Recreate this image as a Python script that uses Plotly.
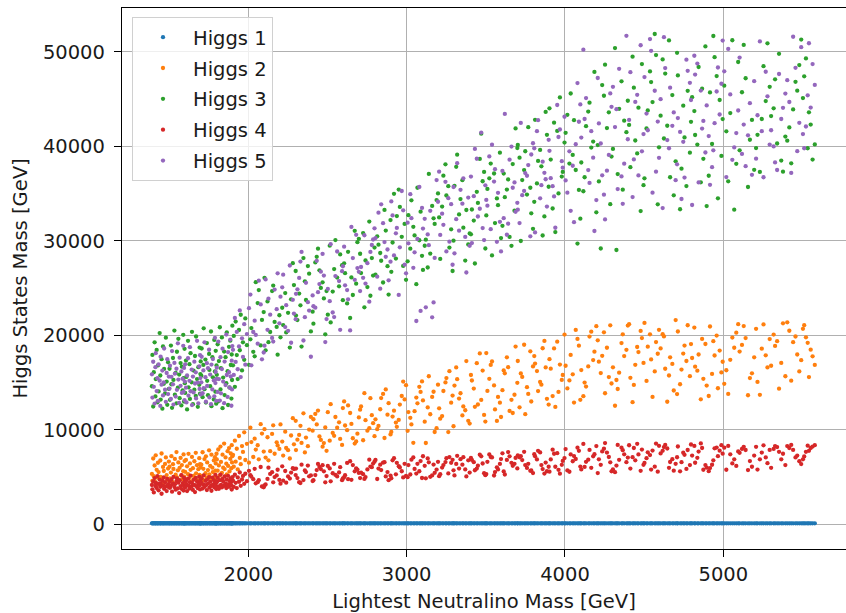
import plotly.graph_objects as go

# Lightest neutralino mass [GeV] for each parameter point (shared by all five Higgs states)
neutralino_mass = [
    1391, 1394, 1399, 1403, 1408, 1413, 1415, 1421, 1426, 1429, 1433, 1440, 1444, 1446, 1452, 1457, 1461, 1466, 1468, 1474, 1479, 1484, 1488, 1493, 1498,
    1502, 1505, 1511, 1514, 1518, 1524, 1527, 1533, 1536, 1541, 1546, 1549, 1555, 1558, 1563, 1566, 1572, 1577, 1580, 1585, 1589, 1591, 1594, 1597, 1599,
    1601, 1606, 1609, 1613, 1619, 1622, 1628, 1631, 1635, 1642, 1644, 1650, 1654, 1659, 1663, 1668, 1670, 1676, 1681, 1684, 1690, 1692, 1695, 1697, 1699,
    1703, 1705, 1711, 1716, 1718, 1723, 1729, 1732, 1738, 1740, 1745, 1752, 1754, 1759, 1764, 1767, 1773, 1776, 1782, 1785, 1789, 1792, 1794, 1797, 1799,
    1801, 1806, 1810, 1814, 1820, 1824, 1827, 1833, 1837, 1841, 1847, 1850, 1856, 1861, 1864, 1869, 1872, 1878, 1881, 1886, 1889, 1893, 1895, 1897, 1899,
    1903, 1908, 1915, 1920, 1927, 1933, 1941, 1946, 1952, 1960, 1966, 1974, 1981, 1991,
    2031, 2086, 2004, 2059, 2013, 2097, 2040, 2066, 2019, 2078, 2047,
    2179, 2109, 2150, 2196, 2127, 2102, 2166, 2121, 2185, 2157, 2138,
    2251, 2203, 2288, 2220, 2270, 2239, 2299, 2214, 2262, 2233, 2281,
    2310, 2357, 2329, 2376, 2395, 2321, 2301, 2384, 2336, 2348, 2364,
    2477, 2411, 2449, 2494, 2432, 2406, 2469, 2423, 2486, 2458, 2440,
    2533, 2592, 2502, 2561, 2514, 2597, 2542, 2573, 2520, 2580, 2550,
    2611, 2660, 2630, 2681, 2698, 2624, 2605, 2689, 2643, 2651, 2672,
    2752, 2706, 2788, 2725, 2771, 2740, 2797, 2712, 2764, 2733, 2780,
    2879, 2814, 2851, 2898, 2833, 2803, 2868, 2822, 2886, 2860, 2839,
    2932, 2987, 2903, 2957, 2911, 2996, 2938, 2969, 2920, 2978, 2950,
    3050, 3006, 3088, 3023, 3068, 3042, 3097, 3011, 3061, 3030, 3080,
    3114, 3161, 3133, 3177, 3198, 3121, 3103, 3189, 3140, 3149, 3170,
    3281, 3212, 3251, 3296, 3232, 3205, 3270, 3224, 3290, 3263, 3245,
    3331, 3389, 3302, 3358, 3313, 3398, 3340, 3370, 3319, 3377, 3352,
    3450, 3406, 3489, 3424, 3471, 3443, 3497, 3412, 3462, 3431, 3480,
    3510, 3558, 3531, 3577, 3596, 3522, 3503, 3589, 3539, 3552, 3570,
    3681, 3613, 3650, 3699, 3633, 3605, 3670, 3620, 3688, 3662, 3641,
    3730, 3787, 3702, 3760, 3713, 3798, 3742, 3768, 3721, 3781, 3749,
    3851, 3806, 3886, 3823, 3870, 3843, 3897, 3811, 3859, 3830, 3878,
    3910, 3959, 3931, 3980, 3997, 3922, 3902, 3986, 3939, 3951, 3968,
    4049, 4088, 4015, 4068, 4004, 4097, 4036, 4079, 4028, 4057,
    4178, 4124, 4155, 4103, 4198, 4133, 4186, 4116, 4166, 4147,
    4226, 4265, 4294, 4246, 4214, 4277, 4207, 4253, 4286, 4235,
    4374, 4325, 4357, 4303, 4397, 4333, 4388, 4316, 4365, 4342,
    4444, 4486, 4413, 4464, 4405, 4496, 4435, 4478, 4427, 4456,
    4523, 4567, 4594, 4544, 4515, 4575, 4502, 4553, 4586, 4537,
    4678, 4625, 4657, 4604, 4699, 4633, 4687, 4617, 4664, 4646,
    4747, 4789, 4713, 4767, 4708, 4796, 4736, 4775, 4727, 4755,
    4822, 4866, 4895, 4844, 4817, 4874, 4803, 4858, 4887, 4836,
    4977, 4929, 4958, 4908, 4996, 4937, 4988, 4916, 4966, 4945,
    5044, 5082, 5006, 5069, 5019, 5094, 5031, 5057,
    5168, 5118, 5195, 5129, 5181, 5103, 5156, 5141,
    5243, 5279, 5207, 5268, 5216, 5293, 5231, 5254,
    5366, 5318, 5392, 5327, 5377, 5302, 5352, 5340,
    5441, 5480, 5404, 5467, 5417, 5492, 5429, 5456,
    5552, 5511, 5578, 5522, 5564, 5503, 5541, 5533,
]

higgs1 = [
    125, 124, 126, 125, 125, 123, 126, 125, 124, 125, 127, 125, 124, 126, 125, 124, 125, 126, 123, 125, 126, 124, 125, 125, 126,
    124, 125, 126, 125, 124, 125, 127, 124, 125, 126, 125, 123, 125, 126, 124, 125, 125, 126, 124, 125, 126, 125, 124, 125, 126,
    126, 125, 124, 125, 126, 124, 125, 123, 125, 126, 125, 124, 126, 125, 124, 125, 127, 125, 124, 126, 125, 124, 125, 126, 125,
    125, 126, 124, 125, 123, 125, 126, 124, 125, 125, 126, 124, 125, 127, 124, 125, 126, 125, 124, 125, 124, 126, 125, 124, 125,
    124, 125, 126, 125, 124, 126, 125, 123, 125, 126, 124, 125, 126, 125, 124, 125, 126, 125, 125, 124, 126, 125, 124, 125, 126,
    125, 126, 124, 125, 125, 126, 124, 125, 127, 125, 124, 126, 125, 124,
    125, 124, 126, 125, 125, 126, 124, 125, 126, 124, 125,
    126, 125, 124, 125, 126, 124, 125, 125, 124, 126, 125,
    124, 125, 125, 126, 125, 124, 126, 125, 125, 124, 126,
    125, 124, 126, 125, 125, 126, 124, 125, 126, 124, 125,
    126, 125, 124, 125, 126, 124, 125, 125, 124, 126, 125,
    124, 125, 125, 126, 125, 124, 126, 125, 125, 124, 126,
    125, 124, 126, 125, 125, 126, 124, 125, 126, 124, 125,
    126, 125, 124, 125, 126, 124, 125, 125, 124, 126, 125,
    124, 125, 125, 126, 125, 124, 126, 125, 125, 124, 126,
    125, 124, 126, 125, 125, 126, 124, 125, 126, 124, 125,
    126, 125, 124, 125, 126, 124, 125, 125, 124, 126, 125,
    124, 125, 125, 126, 125, 124, 126, 125, 125, 124, 126,
    125, 124, 126, 125, 125, 126, 124, 125, 126, 124, 125,
    126, 125, 124, 125, 126, 124, 125, 125, 124, 126, 125,
    124, 125, 125, 126, 125, 124, 126, 125, 125, 124, 126,
    125, 124, 126, 125, 125, 126, 124, 125, 126, 124, 125,
    126, 125, 124, 125, 126, 124, 125, 125, 124, 126, 125,
    124, 125, 125, 126, 125, 124, 126, 125, 125, 124, 126,
    125, 124, 126, 125, 125, 126, 124, 125, 126, 124, 125,
    126, 125, 124, 125, 126, 124, 125, 125, 124, 126, 125,
    125, 126, 124, 125, 125, 126, 124, 125, 124, 126,
    124, 125, 126, 125, 124, 125, 126, 125, 126, 124,
    125, 126, 124, 125, 125, 126, 124, 125, 124, 126,
    124, 125, 126, 125, 124, 125, 126, 125, 126, 124,
    125, 126, 124, 125, 125, 126, 124, 125, 124, 126,
    124, 125, 126, 125, 124, 125, 126, 125, 126, 124,
    125, 126, 124, 125, 125, 126, 124, 125, 124, 126,
    124, 125, 126, 125, 124, 125, 126, 125, 126, 124,
    125, 126, 124, 125, 125, 126, 124, 125, 124, 126,
    124, 125, 126, 125, 124, 125, 126, 125, 126, 124,
    125, 124, 126, 125, 125, 126, 124, 125,
    126, 125, 124, 125, 126, 124, 125, 125,
    125, 124, 126, 125, 125, 126, 124, 125,
    126, 125, 124, 125, 126, 124, 125, 125,
    125, 124, 126, 125, 125, 126, 124, 125,
    126, 125, 124, 125, 126, 124, 125, 125,
]

higgs2 = [
    5350, 4620, 6980, 5110, 6240, 4480, 7320, 5780, 4960, 6530, 5540, 4210, 6770, 5030, 7510, 4840, 6090, 5660, 4390, 6410, 7090, 5230, 4720, 5920, 6650,
    6120, 4870, 5490, 7230, 4560, 6380, 5870, 4330, 6940, 5260, 7660, 4990, 5730, 6560, 4640, 5990, 7040, 5180, 6290, 4780, 5640, 7410, 5060, 6710, 4450,
    5570, 6830, 4740, 6150, 5320, 7470, 4910, 6460, 5780, 4520, 7150, 5960, 5140, 6690, 4830, 7580, 5410, 6270, 4670, 5850, 7010, 5250, 6380, 4950, 6040,
    6330, 5120, 7640, 5890, 4680, 6920, 5430, 7210, 4970, 6570, 5760, 7850, 5300, 6190, 4810, 7390, 6010, 5540, 6780, 5020, 7110, 5690, 6460, 4890, 7480,
    6880, 5690, 7930, 6250, 5180, 8240, 6620, 5470, 7380, 6010, 8560, 5860, 7090, 6430, 5290, 7760, 6190, 8080, 5610, 6940, 7510, 5950, 8390, 6560, 7230,
    7370, 6120, 8870, 6640, 8010, 5820, 9360, 7040, 6380, 8290, 7680, 9750, 6820, 8530,
    7140, 9620, 6540, 8380, 10230, 7710, 9080, 6890, 8720, 10610, 7920,
    8690, 7080, 9580, 7990, 6790, 10080, 7480, 9230, 8360, 10490, 7750,
    7860, 10580, 8480, 7290, 9410, 8090, 10960, 8770, 6980, 9820, 11240,
    8970, 7620, 10440, 8280, 11380, 9470, 7870, 10040, 8630, 11760, 9190,
    8610, 11130, 9310, 7790, 10580, 9920, 8230, 11690, 10270, 8940, 12050,
    9690, 8420, 11880, 10230, 8870, 12310, 9380, 10810, 12720, 9050, 11370,
    10470, 9120, 12590, 8780, 11320, 9980, 13020, 9610, 11790, 10640, 8560,
    9920, 12140, 10720, 8910, 13360, 11030, 9340, 12480, 10190, 13890, 11560,
    11610, 10080, 13810, 9530, 12190, 11120, 14280, 10420, 12830, 9150, 13370,
    10780, 13230, 9790, 12680, 11410, 14730, 10330, 13590, 12040, 15120, 11060,
    11990, 9910, 14020, 11280, 12810, 8640, 15130, 11890, 13420, 10580, 14560,
    10870, 13490, 12380, 9780, 14790, 8620, 13120, 10190, 15680, 11660, 14040,
    12880, 11190, 15480, 10390, 14120, 12290, 16210, 11470, 13630, 9770, 15020,
    13320, 10960, 14690, 12490, 16610, 10670, 13880, 12080, 15370, 17280, 11540,
    12690, 15810, 11590, 14380, 13170, 17060, 10880, 15230, 18090, 12440, 16280,
    14130, 12170, 16880, 13490, 11370, 15410, 18130, 12880, 17240, 14710, 10950,
    13720, 16290, 12010, 14980, 17680, 14210, 11790, 15990, 18820, 13180, 16640,
    15610, 13010, 17290, 14520, 12390, 16720, 19010, 13810, 15980, 18310, 11670,
    14790, 17810, 13290, 16230, 19410, 15070, 12680, 17020, 18640, 14110, 16610,
    16480, 14020, 18620, 15290, 20090, 13580, 17480, 15810, 12430, 19330, 16910,
    15880, 18910, 14390, 20580, 16790, 13180, 17930, 19620, 15240, 12890,
    17390, 15010, 19870, 16330, 20970, 14590, 18280, 13570, 20390, 16720,
    16010, 18690, 14910, 20320, 17220, 15590, 19480, 13880, 21060, 17840,
    17810, 15280, 19190, 16620, 21040, 14330, 18470, 12560, 20110, 16060,
    16890, 19710, 15510, 18230, 21180, 17090, 14760, 20470, 12940, 18770,
    18810, 16190, 20590, 17460, 15180, 19290, 21320, 13490, 18060, 20110,
    16980, 19890, 15760, 18620, 21620, 16470, 14170, 20130, 17680, 12980,
    18080, 15690, 20410, 17290, 13790, 19080, 16380, 21070, 14830, 18920,
    16690, 19620, 14690, 17980, 20830, 15410, 17610, 13240, 19090, 16270,
    18390, 15920, 19980, 13590, 17210, 19390, 16080, 20940, 14410, 17870,
    17410, 20290, 14880, 18690, 16310, 21190, 13810, 19770,
    15490, 18990, 17680, 20980, 15990, 18290, 13670, 19710,
    18590, 16610, 20690, 17890, 15080, 19610, 13710, 21160,
    17090, 20080, 15680, 18880, 21280, 16790, 14360, 19390,
    19280, 16190, 21380, 17980, 20490, 17380, 15210, 19880,
    18490, 21080, 16880, 19790, 17790, 20690, 15590, 19210,
]

higgs3 = [
    14620, 17930, 12480, 16110, 19270, 13540, 15380, 18460, 12930, 16820, 14070, 20240, 15760, 13210, 17480, 12250, 18830, 14880, 16450, 13860, 19760, 15120, 12660, 17160, 14340,
    16470, 13180, 18920, 14830, 12340, 17610, 15290, 20510, 13720, 16030, 12810, 18270, 14460, 19640, 15850, 13360, 17070, 12590, 16690, 14190, 20060, 15480, 13010, 18580, 14950,
    13910, 17340, 15610, 12170, 19420, 14510, 16960, 13280, 18120, 15040, 20380, 12730, 16280, 14260, 17820, 13590, 19880, 15380, 12440, 16640, 14770, 18710, 13830, 15910, 17250,
    15730, 18610, 13460, 16880, 20750, 14310, 17440, 12890, 19190, 15190, 13680, 18040, 16350, 14620, 20410, 12510, 17700, 15560, 13230, 19520, 16180, 14050, 18370, 12780, 16820,
    15830, 19060, 13020, 17280, 20860, 14280, 16530, 19780, 12300, 15540, 18290, 13690, 17690, 14940, 20320, 16220, 12640, 18790, 14490, 19440, 16870, 13320, 17980, 15280, 21030,
    16830, 19940, 14560, 21460, 17920, 15380, 20570, 18430, 22180, 16290, 19270, 17420, 21790, 18960,
    18260, 21630, 16890, 23420, 19580, 22460, 17780, 24790, 20770, 18940, 25630,
    20890, 18420, 24680, 22130, 19280, 26090, 21420, 23590, 17960, 25270, 20360,
    22380, 19790, 25320, 21090, 23810, 20310, 26810, 22920, 18710, 24470, 27640,
    21620, 25720, 23180, 27330, 20420, 24420, 22090, 26520, 18820, 28180, 23740,
    23910, 21240, 26880, 24680, 28310, 22510, 25610, 27720, 20110, 25020, 29170,
    24630, 27420, 22190, 26110, 29490, 23720, 27010, 25190, 21370, 28560, 30080,
    26580, 24270, 28840, 25470, 30210, 23380, 27620, 29860, 21840, 26130, 31060,
    25110, 28630, 26320, 30820, 24190, 27920, 29280, 26590, 32040, 22970, 28180,
    27320, 30480, 25590, 32190, 28710, 26420, 31080, 29590, 24310, 33270, 27890,
    28120, 31790, 26720, 33580, 29820, 25880, 32620, 30420, 34970, 27350, 35420,
    30570, 27830, 33080, 29170, 35610, 31480, 28410, 32710, 25410, 34280, 30060,
    29480, 33690, 27180, 31790, 35010, 30120, 26920, 34310, 37070, 28650, 32380,
    31210, 28090, 34790, 30010, 36890, 32470, 29280, 33620, 26810, 35780, 38090,
    32790, 29610, 35820, 31390, 37820, 30780, 34410, 27910, 39110, 33260, 36410,
    34010, 30690, 37290, 32140, 41330, 35180, 29190, 33310, 38660, 27600, 36300,
    35490, 31880, 38170, 33770, 30290, 36610, 32690, 39320, 28460, 37120, 34480,
    33180, 37110, 30410, 39810, 35420, 31590, 38120, 34610, 41880, 29470, 36490,
    36420, 32910, 40130, 34890, 38790, 31270, 37480, 42020, 29980, 35610, 39470,
    37880, 34120, 41210, 36070, 32580, 39610, 35720, 42790, 30560, 38450, 43630,
    38590, 35010, 42490, 36790, 40390, 33420, 44010, 37290, 30920, 41620, 45160,
    39080, 35380, 43320, 37490, 41420, 32340, 45580, 29710, 38170, 42760,
    40490, 36720, 44610, 38280, 33010, 42120, 47860, 35240, 39860, 43670,
    29190, 41920, 38910, 45340, 36280, 43590, 40120, 48630, 33870, 46470,
    42710, 29030, 46870, 39720, 44810, 37060, 41490, 50380, 35410, 43960,
    40610, 48690, 37790, 44080, 42260, 35880, 46190, 33140, 49470, 39240,
    43790, 51870, 39890, 46790, 41880, 49640, 36610, 44670, 33860, 47910,
    45410, 40820, 51190, 43230, 38410, 47690, 34810, 49180, 36720, 42170,
    44290, 39320, 47490, 35790, 49880, 42580, 37630, 45860, 33340, 40930,
    41190, 46080, 33670, 48380, 43720, 38670, 45190, 36190, 50560, 40180,
    44890, 40240, 47420, 36880, 42870, 51660, 38980, 45690, 34490, 49420,
    43510, 38140, 46410, 33290, 41580, 48910, 36290, 51210,
    40690, 45710, 37510, 50710, 42780, 39570, 35690, 47190,
    42880, 50880, 39810, 44780, 41210, 46280, 37290, 48470,
    38490, 44010, 41020, 47080, 37310, 43190, 49770, 40290,
    43890, 48580, 40590, 45880, 41990, 51280, 38190, 46810,
    42290, 47390, 40190, 49290, 38590, 45090, 43590, 39790,
]

higgs4 = [
    4180, 3720, 4560, 3390, 4910, 4070, 4420, 3860, 5120, 4290, 3610, 4740, 3980, 4350, 3250, 4630, 4110, 4980, 3780, 4470, 4020, 3540, 4820, 4230, 3930,
    4510, 3880, 4130, 4760, 3470, 4340, 5030, 3960, 4250, 3680, 4590, 4880, 3820, 4420, 3320, 4690, 4060, 5210, 3750, 4380, 4170, 3590, 4930, 4020, 4640,
    3920, 4610, 4280, 3540, 4850, 4120, 3790, 4480, 5160, 4010, 4370, 3660, 4720, 4190, 3430, 4940, 4060, 4560, 3840, 4300, 5060, 4150, 3710, 4660, 4400,
    4390, 4870, 3810, 4240, 5190, 3970, 4620, 4150, 3640, 4780, 4320, 5020, 3890, 4510, 4070, 3570, 4960, 4210, 4690, 3930, 4450, 5250, 4100, 3750, 4570,
    4460, 4950, 4020, 3780, 4690, 5270, 4200, 3920, 4810, 4550, 4100, 5080, 4330, 3860, 4740, 4240, 5150, 3990, 4620, 4370, 4880, 4140, 3700, 4590, 5010,
    4630, 3970, 5260, 4410, 3850, 4980, 4520, 5510, 4090, 4760, 5140, 4300, 5370, 4580,
    4790, 4020, 5680, 4480, 5220, 3930, 5890, 4690, 5060, 6080, 4350,
    5190, 4230, 5530, 4710, 6010, 4140, 5020, 4820, 5790, 4460, 5350,
    5080, 4320, 5870, 4630, 5490, 4420, 5230, 6150, 4860, 5660, 5960,
    4910, 5710, 4390, 6230, 5190, 4480, 5920, 5100, 6330, 4700, 5540,
    5620, 4680, 6080, 5120, 5760, 4590, 6270, 5230, 4460, 5860, 6410,
    5420, 4690, 6190, 5080, 5930, 4870, 6420, 5510, 4570, 6060, 5240,
    5210, 6280, 4790, 5940, 5460, 6510, 4990, 5810, 6690, 4730, 5620,
    5830, 4910, 6440, 5320, 6130, 5020, 6640, 5490, 6860, 4820, 6060,
    5540, 4810, 6540, 5170, 6330, 6830, 5080, 5920, 4690, 6590, 5760,
    5310, 6420, 4890, 6040, 6790, 5130, 6520, 5630, 7010, 4980, 6160,
    5880, 5010, 6710, 5290, 6420, 7090, 4920, 6290, 5390, 6860, 5630,
    6210, 5190, 6990, 5470, 6630, 4880, 7220, 5810, 6580, 5040, 6340,
    6520, 5320, 7010, 5730, 6290, 5110, 7130, 6020, 6840, 5400, 6600,
    5910, 6790, 5190, 7120, 6410, 5490, 6910, 5830, 7260, 5080, 6330,
    6220, 7040, 5430, 6590, 7210, 5910, 5220, 6830, 7380, 5740, 6450,
    6630, 5540, 7140, 5820, 6920, 7410, 5330, 6410, 7090, 5180, 6050,
    6420, 5610, 7210, 5930, 6830, 7530, 6210, 5290, 7040, 6520, 7660,
    6810, 5720, 7320, 5980, 7110, 5440, 7690, 6420, 7230, 5680, 6290,
    6290, 7430, 5630, 6880, 5390, 7620, 6110, 7210, 5860, 7790, 6550,
    6880, 5780, 7480, 6310, 7020, 7910, 5590, 6720, 6110, 7540, 5380,
    6690, 7790, 5720, 6930, 7980, 6130, 7410, 8120, 5580, 7240,
    7210, 6090, 7890, 5820, 8290, 6630, 7430, 8520, 5990, 6860,
    6310, 7610, 5620, 8010, 6890, 7140, 5440, 8610, 6580, 7730,
    7420, 6230, 8130, 5830, 7080, 8420, 6590, 5530, 7860, 6840,
    6790, 7920, 5920, 7410, 8380, 6310, 8090, 5680, 7120, 8530,
    7630, 6120, 8320, 5810, 7010, 8560, 6510, 7820, 5590, 7340,
    6910, 8190, 5990, 7520, 6420, 8410, 5690, 7790, 6610, 8040,
    7590, 6280, 8250, 5880, 7110, 8460, 6590, 7880, 5620, 7370,
    6530, 8090, 6010, 7710, 8310, 5790, 7290, 8570, 6280, 7050,
    7810, 6320, 8140, 5640, 7490, 6790, 8390, 5970, 7230, 8060,
    7420, 6190, 8120, 6890, 5790, 7730, 8310, 6460,
    6710, 7990, 7290, 8220, 6110, 7580, 5760, 7880,
    7610, 6490, 8210, 7090, 5810, 7890, 6890, 8370,
    6890, 7990, 6280, 8290, 7480, 5990, 7690, 8190,
    7890, 6690, 8290, 7290, 8090, 6390, 8420, 7090,
    8090, 7190, 8390, 7690, 8240, 6890, 7790, 8340,
]

higgs5 = [
    15880, 13420, 17210, 14560, 12790, 16640, 18120, 14110, 15470, 13080, 16930, 15210, 12540, 17750, 14790, 16280, 13650, 15030, 18610, 14260, 12970, 16020, 17480, 13790, 15640,
    14380, 16790, 13270, 15620, 18340, 14820, 12680, 17090, 15950, 13530, 16470, 14240, 19160, 15330, 12860, 17640, 14670, 16180, 13910, 15410, 18900, 14020, 16560, 13160, 15120,
    16940, 14470, 12910, 15760, 17580, 13620, 15190, 18750, 14090, 16380, 12630, 15640, 13970, 17220, 14910, 16090, 13330, 19420, 15010, 12820, 16710, 14340, 17910, 15480, 13750,
    15040, 17740, 13880, 16290, 14410, 19270, 15570, 12980, 17060, 14650, 16530, 18480, 13440, 15860, 12720, 16910, 14280, 17490, 15240, 13560, 19740, 14960, 16130, 13080, 15390,
    16590, 14020, 19350, 15380, 13110, 17690, 13870, 16440, 18590, 15120, 12830, 17230, 14740, 20090, 15810, 13490, 18230, 16110, 14480, 19560, 15650, 12560, 17330, 14280, 18870,
    18470, 15820, 21840, 17190, 20370, 16420, 18830, 22640, 15590, 19690, 17720, 21190, 16900, 20140,
    20360, 17470, 22880, 19120, 24310, 18190, 21560, 25780, 16830, 23270, 20050,
    22770, 25920, 19730, 21280, 23880, 18910, 24840, 20590, 26560, 19340, 22190,
    20480, 24090, 22310, 26420, 19220, 23190, 21710, 25080, 27390, 20880, 23760,
    24870, 21930, 27810, 23510, 17740, 26080, 24390, 22620, 28830, 19460, 25560,
    26320, 23080, 25430, 21720, 27880, 24230, 28620, 22930, 19290, 26740, 24570,
    22420, 26790, 24910, 28870, 23620, 27310, 21940, 25740, 29640, 20590, 26270,
    25290, 28170, 23810, 30630, 26720, 24790, 29380, 27120, 20520, 31470, 25870,
    27640, 24690, 30140, 26090, 28820, 25480, 31320, 27230, 23560, 30590, 29560,
    29080, 26210, 31870, 27790, 24940, 30290, 28310, 32980, 25820, 29870, 33860,
    30790, 27480, 34170, 29310, 32690, 26560, 31360, 35270, 28460, 33220, 24280,
    28780, 31920, 22590, 34930, 30190, 27140, 33480, 29730, 21520, 32390, 35690,
    32330, 21910, 30680, 28190, 34130, 22970, 31290, 36420, 29540, 33170, 23480,
    33880, 30620, 28880, 35690, 31690, 37310, 29910, 32870, 27470, 34510, 36240,
    31070, 34570, 28680, 36610, 32290, 29470, 35390, 30410, 38210, 26650, 33930,
    32570, 36790, 30080, 34720, 41450, 38680, 35870, 29760, 33390, 39720, 31350,
    33720, 37580, 31230, 35080, 28880, 38920, 34320, 32010, 40160, 36260, 29890,
    36180, 32390, 38580, 34020, 30640, 37390, 35610, 43420, 33070, 39970, 31810,
    34830, 39130, 33290, 36880, 31880, 40320, 35280, 38010, 42470, 30480, 37160,
    35880, 39790, 33620, 41590, 37190, 34490, 40680, 30890, 38370, 42760, 36510,
    36620, 40980, 34690, 38420, 43120, 35780, 39520, 37730, 31380, 44360, 41770,
    37940, 42590, 35090, 40210, 36390, 44420, 33170, 46680, 39460, 31970,
    38790, 42880, 36120, 40920, 34310, 45090, 31040, 50210, 41590, 37480,
    40290, 37420, 44170, 34880, 42410, 39080, 47220, 32260, 45590, 36930,
    38160, 43920, 36810, 46280, 40740, 35470, 51680, 42030, 33910, 48190,
    44690, 39460, 47830, 36920, 42780, 41290, 38610, 50680, 34630, 45440,
    41690, 45870, 38780, 50090, 43460, 37310, 47320, 35090, 42610, 51330,
    42160, 51530, 39790, 44980, 36410, 48270, 43580, 33460, 46190, 40650,
    40470, 46710, 42980, 49160, 38090, 44890, 34420, 47980, 41520, 36690,
    47580, 41870, 44320, 36170, 49570, 42680, 33790, 45890, 39340, 48740,
    43360, 37790, 45790, 41080, 51180, 39570, 46610, 35920, 48330, 42440,
    45480, 41390, 47920, 39880, 36740, 43780, 50290, 38560,
    44560, 39190, 46880, 42290, 36980, 49380, 41160, 37890,
    41590, 45280, 38690, 47880, 43280, 40180, 51090, 36720,
    42880, 39980, 45570, 38290, 44060, 41690, 47640, 37490,
    51580, 42480, 46990, 39480, 44680, 50480, 37180, 48290,
    44090, 39790, 46490, 42090, 48690, 41290, 50890, 45390,
]

series_names = ["Higgs 1", "Higgs 2", "Higgs 3", "Higgs 4", "Higgs 5"]
series_values = [higgs1, higgs2, higgs3, higgs4, higgs5]
series_colors = ["#1f77b4", "#ff7f0e", "#2ca02c", "#d62728", "#9467bd"]

x_tick_values = [2000, 3000, 4000, 5000]
y_tick_values = [0, 10000, 20000, 30000, 40000, 50000]
x_title = "Lightest Neutralino Mass [GeV]"
y_title = "Higgs States Mass [GeV]"

fig = go.Figure()
for name, ys, col in zip(series_names, series_values, series_colors):
    fig.add_trace(go.Scatter(
        x=neutralino_mass, y=ys, mode="markers", name=name, legendgroup=name,
        marker=dict(size=4.3, color=col, line=dict(width=0)),
    ))

font_family = "DejaVu Sans"
txt_color = "#1a1a1a"

axis_common = dict(
    showgrid=True, gridcolor="#b0b0b0", gridwidth=1.2,
    showline=True, linecolor="black", linewidth=1.3,
    ticks="outside", ticklen=7, tickwidth=1.3, tickcolor="black",
    zeroline=False, tickformat="d",
    tickfont=dict(family=font_family, size=19.5, color=txt_color),
)

fig.update_layout(
    width=846, height=613,
    margin=dict(l=122, r=0, t=8, b=64, pad=0),
    paper_bgcolor="white", plot_bgcolor="white",
    font=dict(family=font_family, size=19.5, color=txt_color),
    showlegend=True,
    legend=dict(
        x=0.0138, y=0.9834, xanchor="left", yanchor="top",
        bgcolor="rgba(255,255,255,0.8)", bordercolor="#d0d0d0", borderwidth=1,
        font=dict(family=font_family, size=19.5, color=txt_color),
        itemwidth=50, tracegroupgap=2.5,
    ),
    xaxis=dict(
        range=[1202, 5775], tickvals=x_tick_values, mirror=True,
        title=dict(text=x_title, standoff=9, font=dict(family=font_family, size=19.5, color=txt_color)),
        **axis_common,
    ),
    yaxis=dict(
        range=[-2590, 54620], tickvals=y_tick_values, mirror=False, ticklabelstandoff=5,
        title=dict(text=y_title, standoff=10, font=dict(family=font_family, size=19.5, color=txt_color)),
        **axis_common,
    ),
)

fig.write_html("out.html")
